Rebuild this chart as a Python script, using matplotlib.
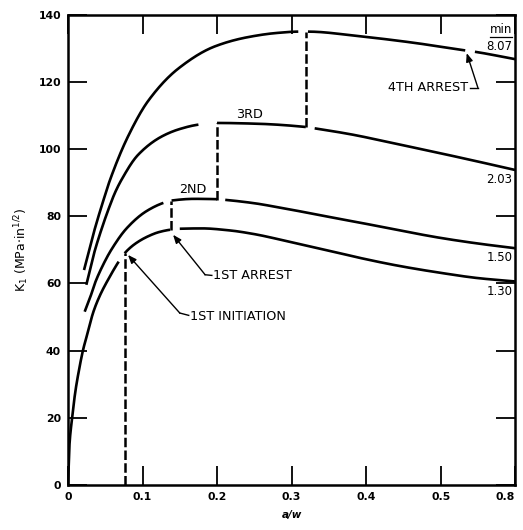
import numpy as np
import matplotlib
matplotlib.use("Agg")
import matplotlib.pyplot as plt

# ---------------- data ----------------
x_130 = [0, 0.002, 0.005, 0.010, 0.015, 0.020, 0.026, 0.034, 0.043, 0.056, 0.068, 0.076,
         0.090, 0.107, 0.122, 0.137, 0.150, 0.180, 0.217, 0.250, 0.284, 0.329, 0.365,
         0.392, 0.445, 0.499, 0.550, 0.600]
k_130 = [0, 12, 19, 28, 34.5, 40, 45, 51.5, 56.5, 62, 66.5, 69, 71.8, 74, 75.3, 76, 76.3,
         76.4, 75.8, 74.7, 73.1, 70.8, 69.0, 67.6, 65.2, 63.2, 61.6, 60.6]
seg_130 = [(0, 0.068), (0.076, 0.137), (0.150, 0.600)]

x_150 = [0.0224, 0.030, 0.036, 0.047, 0.058, 0.079, 0.105, 0.128, 0.139, 0.170, 0.200,
         0.211, 0.250, 0.284, 0.330, 0.365, 0.392, 0.445, 0.499, 0.550, 0.600]
k_150 = [51.6, 56, 60, 65.5, 70, 76.5, 81.5, 84.0, 84.7, 85.2, 85.1, 84.9, 83.9, 82.6,
         80.7, 79.2, 78.1, 75.8, 73.6, 71.9, 70.5]
seg_150 = [(0.0224, 0.128), (0.139, 0.200), (0.211, 0.600)]

x_203 = [0.0246, 0.035, 0.047, 0.055, 0.063, 0.0716, 0.094, 0.126, 0.150, 0.175, 0.200,
         0.250, 0.319, 0.331, 0.380, 0.436, 0.526, 0.600]
k_203 = [59.6, 69, 77.5, 82.5, 87, 90.8, 98.3, 103.8, 106, 107.3, 107.8, 107.6, 106.6,
         106.2, 104.4, 101.8, 97.5, 93.8]
seg_203 = [(0.0246, 0.175), (0.200, 0.319), (0.331, 0.600)]

x_807 = [0.0215, 0.035, 0.052, 0.056, 0.081, 0.108, 0.148, 0.197, 0.240, 0.280, 0.309,
         0.322, 0.392, 0.460, 0.533, 0.546, 0.600]
k_807 = [64, 75.5, 87.9, 90.6, 104, 114.5, 124.0, 130.6, 133.3, 134.6, 135, 135, 133.6,
         131.8, 129.4, 129, 126.8]
seg_807 = [(0.0215, 0.309), (0.322, 0.533), (0.546, 0.600)]

# crack-path jumps (dashed verticals): x, K_from, K_to
jump_x = [0.076, 0.138, 0.2005, 0.3195]
jump_k0 = [0, 76, 85, 106.7]
jump_k1 = [69, 84.7, 107.8, 135]

curve_labels = ["1.30", "1.50", "2.03", "8.07"]
curve_label_k = [57.5, 67.6, 90.9, 130.5]

x_ticks = [0, 0.1, 0.2, 0.3, 0.4, 0.5, 0.6]
x_ticklabels = ["0", "0.1", "0.2", "0.3", "0.4", "0.5", "0.8"]
y_ticks = [0, 20, 40, 60, 80, 100, 120, 140]
y_ticklabels = ["0", "20", "40", "60", "80", "100", "120", "140"]


# ---------------- helpers ----------------
def pchip(x, y, xn):
    x = np.asarray(x, float); y = np.asarray(y, float)
    h = np.diff(x); d = np.diff(y) / h
    m = np.zeros_like(y)
    for i in range(1, len(x) - 1):
        if d[i - 1] * d[i] > 0:
            w1 = 2 * h[i] + h[i - 1]; w2 = h[i] + 2 * h[i - 1]
            m[i] = (w1 + w2) / (w1 / d[i - 1] + w2 / d[i])
    m[0] = d[0]; m[-1] = d[-1]
    idx = np.clip(np.searchsorted(x, xn) - 1, 0, len(x) - 2)
    t = (xn - x[idx]) / h[idx]
    h00 = 2 * t**3 - 3 * t**2 + 1; h10 = t**3 - 2 * t**2 + t
    h01 = -2 * t**3 + 3 * t**2; h11 = t**3 - t**2
    return h00 * y[idx] + h10 * h[idx] * m[idx] + h01 * y[idx + 1] + h11 * h[idx] * m[idx + 1]


fig = plt.figure(figsize=(5.23, 5.30), dpi=100)
ax = fig.add_axes([0.130, 0.085, 0.855, 0.887])
LW = 1.9
for xs, ks, segs in [(x_130, k_130, seg_130), (x_150, k_150, seg_150),
                     (x_203, k_203, seg_203), (x_807, k_807, seg_807)]:
    for a, b in segs:
        xn = np.linspace(a, b, 300)
        ax.plot(xn, pchip(xs, ks, xn), color="black", lw=LW, solid_capstyle="butt")

for xj, k0, k1 in zip(jump_x, jump_k0, jump_k1):
    ax.plot([xj, xj], [k0, k1], color="black", lw=1.8, linestyle=(0, (3.8, 1.3)))

ax.set_xlim(0, 0.6)
ax.set_ylim(0, 140)
ax.set_xticks(x_ticks)
ax.set_xticklabels(x_ticklabels, fontsize=7.8, fontweight="bold")
ax.get_xticklabels()[-1].set_horizontalalignment("right")
ax.set_yticks(y_ticks)
ax.set_yticklabels(y_ticklabels, fontsize=7.8, fontweight="bold")
ax.tick_params(axis="both", direction="in", length=14, width=1.3,
               top=True, right=True, pad=5)
for s in ax.spines.values():
    s.set_linewidth(1.8)

ax.set_xlabel("a/w", fontsize=7.5, style="italic", fontweight="bold", labelpad=6)
ax.set_ylabel(r"K$_1$ (MPa$\cdot$in$^{1/2}$)", fontsize=9, labelpad=5)

TFS = 9.2
# right-hand curve labels
for lab, kk in zip(curve_labels, curve_label_k):
    ax.text(0.596, kk, lab, ha="right", va="center", fontsize=8.5)
ax.text(0.596, 135.6, "min", ha="right", va="center", fontsize=8.5)
ax.plot([0.566, 0.596], [133.5, 133.5], color="black", lw=0.9)

# step labels
ax.text(0.1677, 87.9, "2ND", ha="center", va="center", fontsize=TFS)
ax.text(0.243, 110.2, "3RD", ha="center", va="center", fontsize=TFS)

arrow = dict(arrowstyle="-|>,head_length=0.5,head_width=0.2", color="black", lw=1.0,
             shrinkA=0, shrinkB=0)
# 1ST ARREST
ax.plot([0.184, 0.193], [62.6, 62.4], color="black", lw=1.0)
ax.annotate("", xy=(0.141, 74.5), xytext=(0.184, 62.6), arrowprops=arrow)
ax.text(0.1945, 62.3, "1ST ARREST", ha="left", va="center", fontsize=TFS)
# 1ST INITIATION
ax.plot([0.150, 0.162], [51.2, 50.5], color="black", lw=1.0)
ax.annotate("", xy=(0.0805, 68.5), xytext=(0.150, 51.2), arrowprops=arrow)
ax.text(0.1636, 50.3, "1ST INITIATION", ha="left", va="center", fontsize=TFS)
# 4TH ARREST
ax.plot([0.5395, 0.550], [118.3, 118.3], color="black", lw=1.0)
ax.annotate("", xy=(0.535, 128.6), xytext=(0.550, 118.3), arrowprops=arrow)
ax.text(0.537, 118.3, "4TH ARREST", ha="right", va="center", fontsize=TFS)

fig.savefig("out.png", dpi=100)
